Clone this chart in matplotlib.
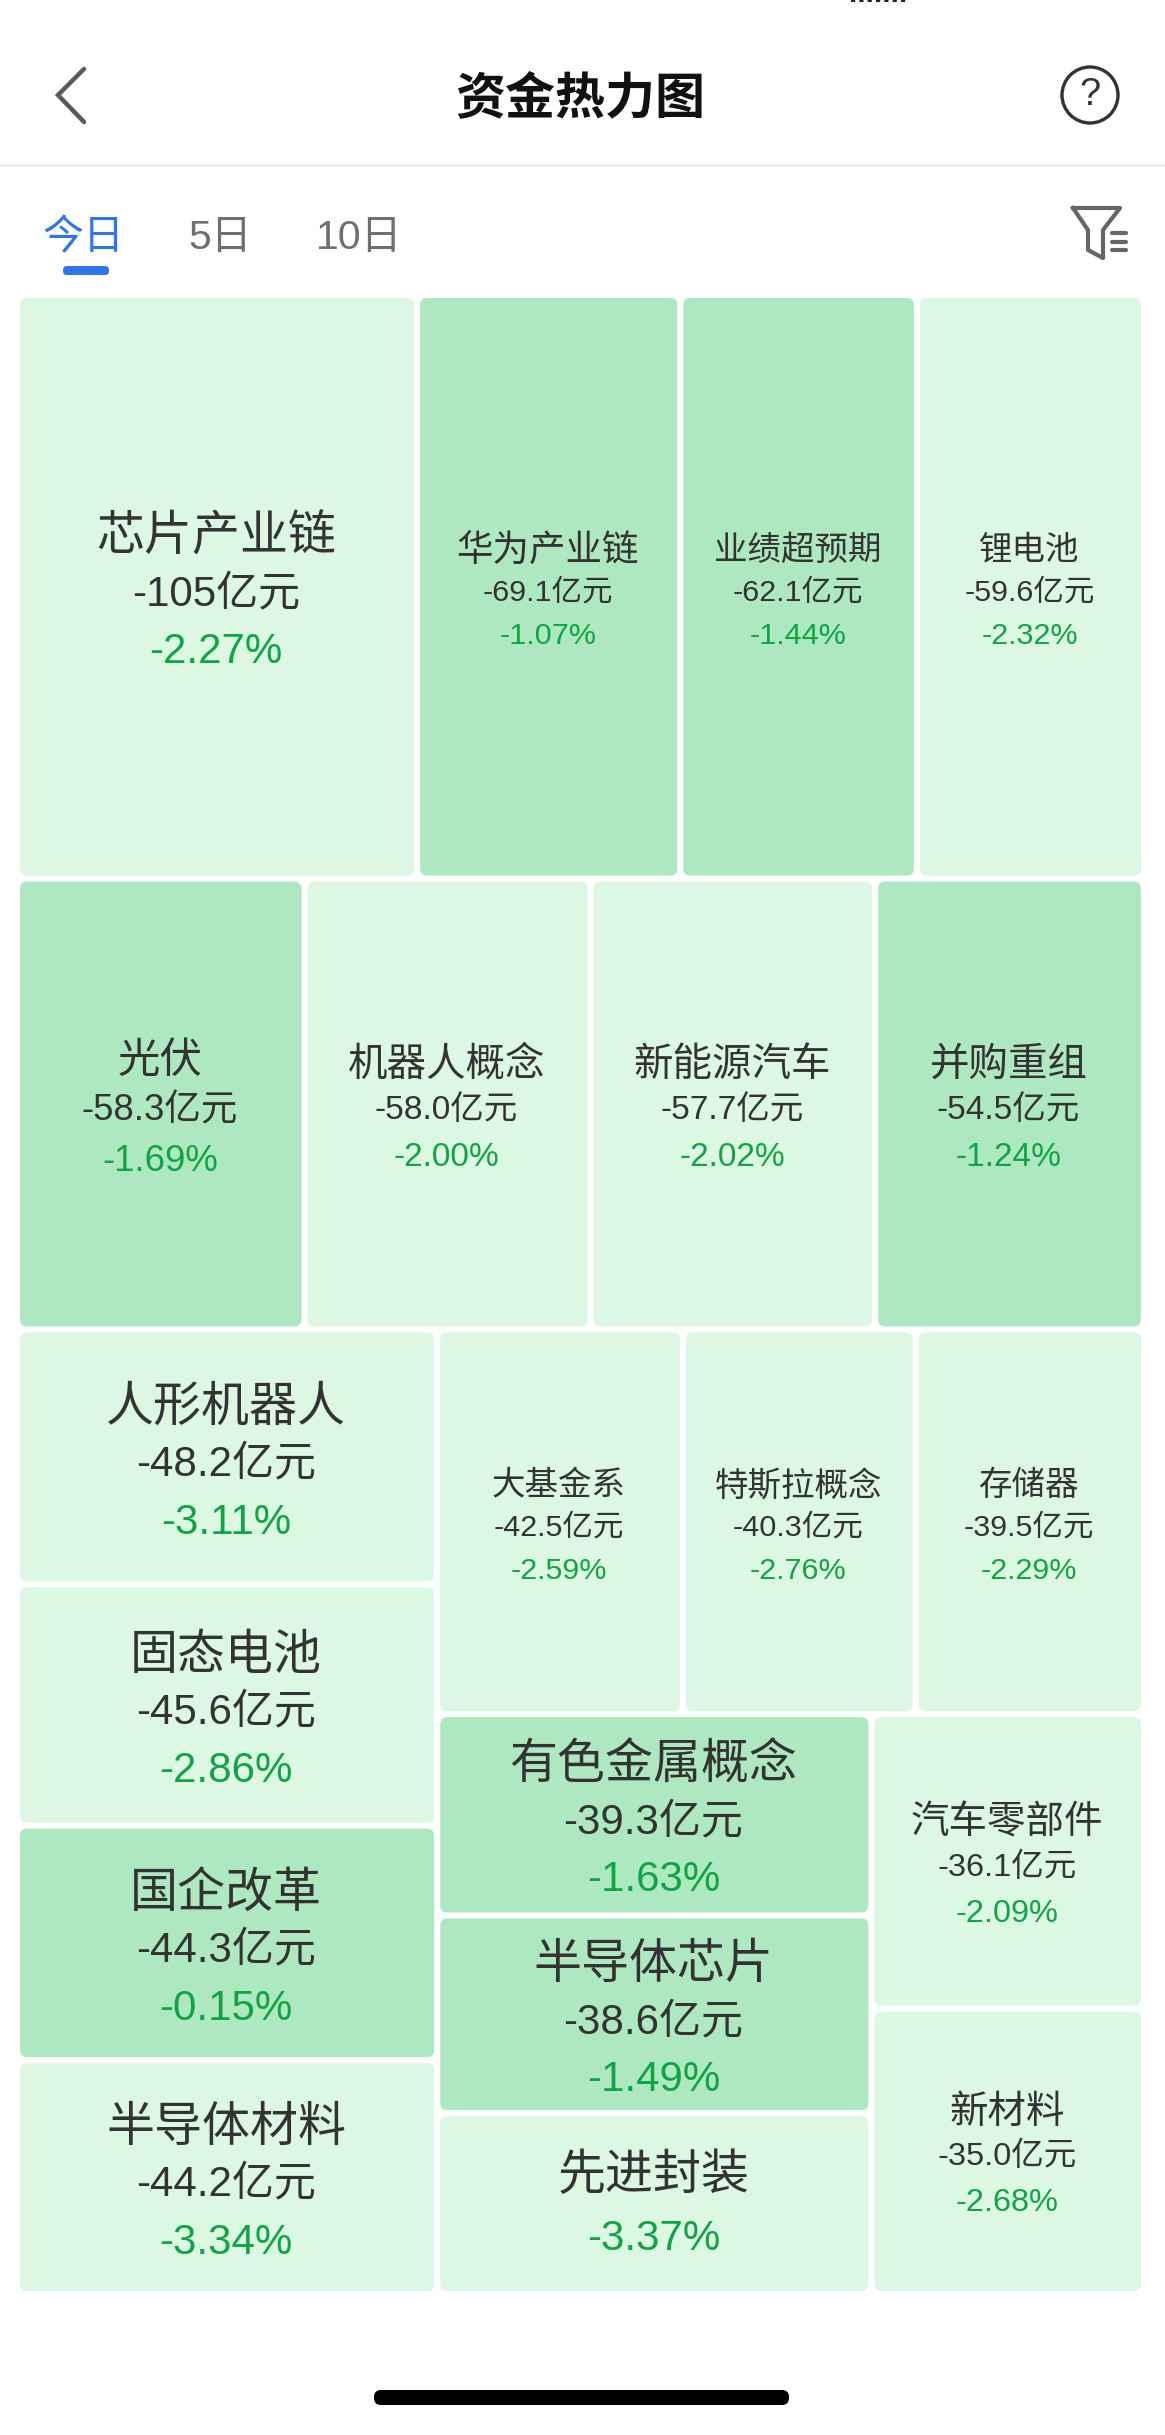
import matplotlib
matplotlib.use("Agg")
import matplotlib.pyplot as plt
from matplotlib.patches import FancyBboxPatch, Circle

plt.rcParams['font.family'] = ['Liberation Sans', 'Noto Sans CJK SC', 'DejaVu Sans']

W, H = 1165, 2435

names = ["芯片产业链", "华为产业链", "业绩超预期", "锂电池",
         "光伏", "机器人概念", "新能源汽车", "并购重组",
         "人形机器人", "固态电池", "国企改革", "半导体材料",
         "大基金系", "特斯拉概念", "存储器",
         "有色金属概念", "半导体芯片", "先进封装",
         "汽车零部件", "新材料"]
flows = [105, 69.1, 62.1, 59.6,
         58.3, 58.0, 57.7, 54.5,
         48.2, 45.6, 44.3, 44.2,
         42.5, 40.3, 39.5,
         39.3, 38.6, 35.3,
         36.1, 35.0]
changes = [-2.27, -1.07, -1.44, -2.32,
           -1.69, -2.00, -2.02, -1.24,
           -3.11, -2.86, -0.15, -3.34,
           -2.59, -2.76, -2.29,
           -1.63, -1.49, -3.37,
           -2.09, -2.68]
# 先进封装 shows no amount in the app, its flow is only estimated from the tile area
hide_amount = ["先进封装"]
dark_tiles = ["华为产业链", "业绩超预期", "光伏", "并购重组", "国企改革", "有色金属概念", "半导体芯片"]

# squarified groups: odd levels stack, even levels sit side by side
tree = [[0, 1, 2, 3],
        [4, 5, 6, 7],
        [[8, 9, 10, 11],
         [[12, 13, 14],
          [[15, 16, 17],
           [18, 19]]]]]

# text sizes in pixels, same order as names
name_px = [48, 36.5, 33.5, 33.5, 42.5, 39.5, 39.5, 39.5, 48, 48, 48, 48, 33.5, 33.5, 33.5, 48, 48, 48, 38.5, 38.5]
value_px = [42, 30.5, 30.5, 30.5, 36.5, 33.5, 33.5, 33.5, 42, 42, 42, 42, 30.5, 30.5, 30.5, 42, 42, 42, 32.5, 32.5]

LIGHT = "#dcf7e2"
DARK = "#aee8c0"
INK = "#333333"
GREEN = "#10a544"
BLUE = "#2f76e6"
GREY = "#6f6f6f"


def px(size):
    return size * 72 / 100


def total(node):
    if isinstance(node, int):
        return flows[node]
    return sum(total(n) for n in node)


def layout(node, x, y, w, h, stacked, out):
    if isinstance(node, int):
        out[node] = (x, y, w, h)
        return
    s = total(node)
    for n in node:
        part = total(n) / s
        if stacked:
            layout(n, x, y, w, h * part, False, out)
            y += h * part
        else:
            layout(n, x, y, w * part, h, True, out)
            x += w * part


fig = plt.figure(figsize=(W / 100, H / 100), dpi=100)
ax = fig.add_axes([0, 0, 1, 1])
ax.set_xlim(0, W)
ax.set_ylim(H, 0)
ax.axis("off")

# treemap
rects = {}
layout(tree, 17, 295, 1127, 1999, True, rects)
for i, (x, y, w, h) in rects.items():
    color = DARK if names[i] in dark_tiles else LIGHT
    ax.add_patch(FancyBboxPatch((x + 9, y + 9), w - 18, h - 18,
                                boxstyle="round,pad=6,rounding_size=7", fc=color, ec="none"))
    cx, cy = x + w / 2 - 1, y + h / 2
    gap = value_px[i] * 1.42
    pct = "%.2f%%" % changes[i]
    if names[i] in hide_amount:
        ax.text(cx, cy - 27, names[i], fontsize=px(name_px[i]), color=INK, ha="center", va="center")
        ax.text(cx, cy + 35, pct, fontsize=px(value_px[i]), color=GREEN, ha="center", va="center")
        continue
    amount = "-%g亿元" % flows[i] if flows[i] == 105 else "-%.1f亿元" % flows[i]
    ax.text(cx, cy - gap * 0.82, names[i], fontsize=px(name_px[i]), color=INK, ha="center", va="center")
    ax.text(cx, cy + gap * 0.13, amount, fontsize=px(value_px[i]), color=INK, ha="center", va="center")
    ax.text(cx, cy + 6 + gap, pct, fontsize=px(value_px[i]), color=GREEN, ha="center", va="center")

# status bar leftovers at the very top
ax.plot([851, 906], [0.5, 0.5], color="#222222", lw=1.5, ls=(0, (2, 2)))

# header
ax.plot([84, 58, 84], [69, 95, 122], color="#5a5a5a", lw=3.2, solid_capstyle="round", solid_joinstyle="miter")
ax.text(580, 99, "资金热力图", fontsize=px(50), fontweight="bold", color="#111111", ha="center", va="center")
ax.add_patch(Circle((1090, 95), 28, fc="none", ec="#333333", lw=2.4))
ax.text(1090, 95, "?", fontsize=px(38), color="#333333", ha="center", va="center")
ax.plot([0, W], [165, 165], color="#eeeeee", lw=2)

# tabs
ax.text(84, 238, "今日", fontsize=px(41), color=BLUE, ha="center", va="center")
ax.text(220, 238, "5日", fontsize=px(41), color=GREY, ha="center", va="center")
ax.text(359, 238, "10日", fontsize=px(41), color=GREY, ha="center", va="center")
ax.add_patch(FancyBboxPatch((67, 270), 38, 1, boxstyle="round,pad=4,rounding_size=4", fc=BLUE, ec="none"))

# filter icon
ax.plot([1073, 1120, 1103, 1103, 1088, 1088, 1073], [208, 208, 230, 258, 250, 230, 208],
        color="#666666", lw=3, solid_joinstyle="round")
for yy in [233, 242, 250]:
    ax.plot([1112, 1126], [yy, yy], color="#666666", lw=3, solid_capstyle="round")

# home bar
ax.add_patch(FancyBboxPatch((380, 2396), 403, 3, boxstyle="round,pad=6,rounding_size=7", fc="black", ec="none"))

fig.savefig("out.png", dpi=100)
